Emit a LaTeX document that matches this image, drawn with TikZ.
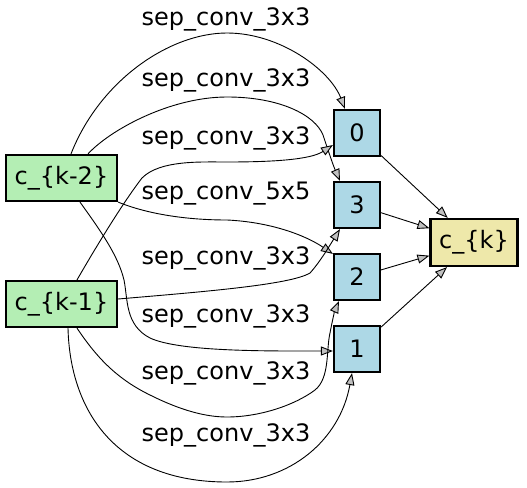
\documentclass[tikz,border=0pt]{standalone}
\usepackage{fontspec}
\setmainfont{DejaVu Sans}
\usetikzlibrary{arrows.meta}
\definecolor{inputgreen}{HTML}{B4EEB4}
\definecolor{opblue}{HTML}{ADD8E6}
\definecolor{outyellow}{HTML}{EEE8AA}
\definecolor{arrowgray}{HTML}{C0C0C0}
\tikzset{
  cellnode/.style={draw=black, line width=2.2pt, inner sep=0pt, font=\fontsize{24}{28}\selectfont},
  inbox/.style={cellnode, fill=inputgreen, minimum width=111pt, minimum height=46pt},
  opbox/.style={cellnode, fill=opblue, minimum width=46pt, minimum height=46pt},
  outbox/.style={cellnode, fill=outyellow, minimum width=87pt, minimum height=47pt},
  oplabel/.style={inner sep=0pt, font=\fontsize{24}{28}\selectfont},
  edge/.style={draw=black, line width=0.9pt, -{Triangle[length=12pt,width=9pt,fill=arrowgray]}}
}
\begin{document}
\begin{tikzpicture}[x=1pt,y=-1pt]
\useasboundingbox (0,0) rectangle (527,487);
% nodes
\node[inbox] (k2) at (61.5,178) {c\_\{k-2\}};
\node[inbox] (k1) at (61.5,304) {c\_\{k-1\}};
\node[opbox] (n0) at (357,133) {0};
\node[opbox] (n3) at (357,205) {3};
\node[opbox] (n2) at (357,277) {2};
\node[opbox] (n1) at (357,349) {1};
\node[outbox] (ck) at (474,242.5) {c\_\{k\}};
% labels
\node[oplabel] (l1) at (226,19) {sep\_conv\_3x3};
\node[oplabel] (l2) at (226,80) {sep\_conv\_3x3};
\node[oplabel] (l3) at (226,138) {sep\_conv\_3x3};
\node[oplabel] (l4) at (226,194) {sep\_conv\_5x5};
\node[oplabel] (l5) at (226,258) {sep\_conv\_3x3};
\node[oplabel] (l6) at (226,316) {sep\_conv\_3x3};
\node[oplabel] (l7) at (226,373) {sep\_conv\_3x3};
\node[oplabel] (l8) at (226,435) {sep\_conv\_3x3};
% edges
\draw[edge] ([xshift=9.5pt]k2.north) .. controls (100,80) and (170,33) .. (227,33)
  .. controls (280,33) and (330,70) .. ([xshift=-12pt]n0.north);
\draw[edge] ([xshift=26.5pt]k2.north) .. controls (110,130) and (170,97) .. (227,97)
  .. controls (280,97) and (315,115) .. (323,135)
  .. controls (328,150) and (333,165) .. ([xshift=-17pt]n3.north);
\draw[edge] ([xshift=15.5pt]k1.north) .. controls (100,240) and (125,200) .. (142,178)
  .. controls (160,160) and (200,162) .. (227,162)
  .. controls (270,162) and (310,160) .. ([yshift=-12pt]n0.west);
\draw[edge] (k2.south east) .. controls (150,215) and (190,220) .. (227,220)
  .. controls (270,222) and (305,235) .. ([yshift=-1pt]n2.north west);
\draw[edge] ([yshift=5pt]k1.east) .. controls (200,292) and (290,285) .. (310,273)
  .. controls (320,262) and (330,245) .. ([xshift=-17pt]n3.south);
\draw[edge] ([xshift=18.5pt]k2.south) .. controls (100,230) and (118,255) .. (124,280)
  .. controls (128,300) and (125,325) .. (150,338)
  .. controls (180,352) and (270,351) .. ([yshift=-2pt]n1.west);
\draw[edge] ([xshift=15.5pt]k1.south) .. controls (95,355) and (115,378) .. (150,395)
  .. controls (180,410) and (205,417) .. (227,417)
  .. controls (260,417) and (295,405) .. (315,390)
  .. controls (330,378) and (326,350) .. (330,333)
  .. controls (332,322) and (335,310) .. ([xshift=-18pt]n2.south);
\draw[edge] ([xshift=6.5pt]k1.south) .. controls (70,410) and (115,482) .. (227,482)
  .. controls (290,482) and (340,440) .. ([xshift=-5pt]n1.south);
\draw[edge] (n0) -- (ck);
\draw[edge] (n3) -- (ck);
\draw[edge] (n2) -- (ck);
\draw[edge] (n1) -- (ck);
\end{tikzpicture}
\end{document}
